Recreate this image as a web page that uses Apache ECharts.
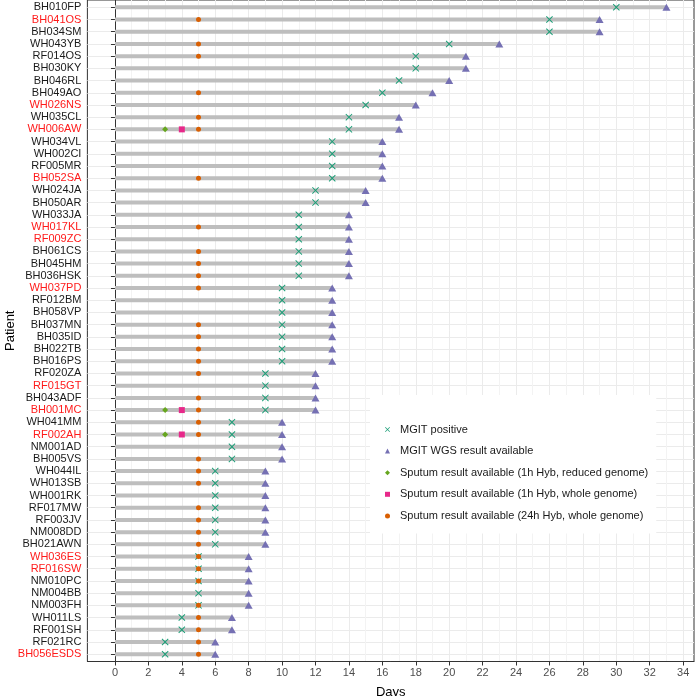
<!DOCTYPE html>
<html><head><meta charset="utf-8">
<script src="https://cdn.jsdelivr.net/npm/echarts@6/dist/echarts.min.js"></script>
<style>html,body{margin:0;padding:0;background:#fff}#c{width:696px;height:696px}</style>
</head><body><div id="c"></div><script>
const patients = ['BH010FP','BH041OS','BH034SM','WH043YB','RF014OS','BH030KY','BH046RL','BH049AO','WH026NS','WH035CL','WH006AW','WH034VL','WH002CI','RF005MR','BH052SA','WH024JA','BH050AR','WH033JA','WH017KL','RF009ZC','BH061CS','BH045HM','BH036HSK','WH037PD','RF012BM','BH058VP','BH037MN','BH035ID','BH022TB','BH016PS','RF020ZA','RF015GT','BH043ADF','BH001MC','WH041MM','RF002AH','NM001AD','BH005VS','WH044IL','WH013SB','WH001RK','RF017MW','RF003JV','NM008DD','BH021AWN','WH036ES','RF016SW','NM010PC','NM004BB','NM003FH','WH011LS','RF001SH','RF021RC','BH056ESDS'];
const redPatients = ['BH041OS','WH026NS','WH006AW','BH052SA','WH017KL','RF009ZC','WH037PD','RF015GT','BH001MC','RF002AH','WH036ES','RF016SW','BH056ESDS'];
const mgitPositive = [30,26,26,20,18,18,17,16,15,14,14,13,13,13,13,12,12,11,11,11,11,11,11,10,10,10,10,10,10,10,9,9,9,9,7,7,7,7,6,6,6,6,6,6,6,5,5,5,5,5,4,4,3,3];
const wgsResult = [33,29,29,23,21,21,20,19,18,17,17,16,16,16,16,15,15,14,14,14,14,14,14,13,13,13,13,13,13,13,12,12,12,12,10,10,10,10,9,9,9,9,9,9,9,8,8,8,8,8,7,7,6,6];
const sputum24hWhole = [null,5,null,5,5,null,null,5,null,5,5,null,null,null,5,null,null,null,5,null,5,5,5,5,null,null,5,5,5,5,5,null,5,5,5,5,null,5,5,5,null,5,5,5,5,5,5,5,null,5,5,5,5,5];
const sputum1hWhole = [null,null,null,null,null,null,null,null,null,null,4,null,null,null,null,null,null,null,null,null,null,null,null,null,null,null,null,null,null,null,null,null,null,4,null,4,null,null,null,null,null,null,null,null,null,null,null,null,null,null,null,null,null,null];
const sputum1hReduced = [null,null,null,null,null,null,null,null,null,null,3,null,null,null,null,null,null,null,null,null,null,null,null,null,null,null,null,null,null,null,null,null,null,3,null,3,null,null,null,null,null,null,null,null,null,null,null,null,null,null,null,null,null,null];
const xTicks = [0,2,4,6,8,10,12,14,16,18,20,22,24,26,28,30,32,34];
const xMinorTicks = [1,3,5,7,9,11,13,15,17,19,21,23,25,27,29,31,33];
const legendNames = ['MGIT positive','MGIT WGS result available','Sputum result available (1h Hyb, reduced genome)','Sputum result available (1h Hyb, whole genome)','Sputum result available (24h Hyb, whole genome)'];

const FONT = 'Liberation Sans, Arial, Helvetica, sans-serif';
const rowIdx = patients.map((_, i) => i + 1);
const toPts = arr => arr.map((v, i) => v == null ? null : [v, i + 1]).filter(p => p);
const CROSS = 'path://M0,1 L1,0 L5,4 L9,0 L10,1 L6,5 L10,9 L9,10 L5,6 L1,10 L0,9 L4,5 Z';

const chart = echarts.init(document.getElementById('c'), null, {renderer: 'canvas'});
chart.setOption({
  animation: false,
  backgroundColor: '#fff',
  textStyle: {fontFamily: FONT},
  grid: {left: 87.4, right: 2, top: 0, bottom: 34.5, containLabel: false, outerBoundsMode: 'none', show: true, borderColor: '#333333', borderWidth: 1, backgroundColor: 'transparent'},
  legend: {
    orient: 'vertical', left: 370, top: 395,
    backgroundColor: '#ffffff',
    padding: [29, 8, 12, 15],
    itemWidth: 5, itemHeight: 5, itemGap: 10.6,
    textStyle: {fontFamily: FONT, fontSize: 11, color: '#1a1a1a', padding: [0, 0, 0, 5]},
    data: legendNames
  },
  xAxis: [{
    type: 'value', min: -1.65, max: 34.65,
    name: 'Days', nameLocation: 'middle', nameGap: 24,
    nameTextStyle: {fontFamily: FONT, fontSize: 13, color: '#000'},
    axisLine: {show: true, lineStyle: {color: '#333333', width: 1}},
    axisTick: {show: true, length: 4, customValues: xTicks, lineStyle: {color: '#333333'}},
    axisLabel: {customValues: xTicks, fontFamily: FONT, fontSize: 11, color: '#4d4d4d', margin: 6},
    splitLine: {show: true, lineStyle: {color: '#EBEBEB', width: 1}}
  }, {
    type: 'value', min: -1.65, max: 34.65, position: 'bottom',
    axisLine: {show: false}, axisLabel: {show: false},
    axisTick: {show: false, customValues: xMinorTicks},
    splitLine: {show: true, lineStyle: {color: '#F3F3F3', width: 1}}
  }],
  yAxis: {
    type: 'value', min: 0.4, max: 54.6, inverse: true,
    name: 'Patient', nameLocation: 'middle', nameGap: 70, nameRotate: 90, nameMoveOverlap: false,
    nameTextStyle: {fontFamily: FONT, fontSize: 13, color: '#000'},
    axisLine: {show: true, lineStyle: {color: '#333333', width: 1}},
    axisTick: {show: true, length: 4, customValues: rowIdx, lineStyle: {color: '#333333'}},
    axisLabel: {
      customValues: rowIdx, fontFamily: FONT, fontSize: 11, color: '#1a1a1a', margin: 6,
      formatter: v => {
        const n = patients[Math.round(v) - 1];
        if (!n) return '';
        return redPatients.indexOf(n) >= 0 ? '{r|' + n + '}' : n;
      },
      rich: {r: {color: '#ff1a1a', fontFamily: FONT, fontSize: 11}}
    },
    splitLine: {show: true, lineStyle: {color: '#EBEBEB', width: 1}}
  },
  series: [
    {
      type: 'custom', name: 'bars', silent: true, z: 1,
      data: wgsResult.map((v, i) => [v, i + 1]),
      encode: {x: 0, y: 1},
      renderItem: (params, api) => {
        const s = api.coord([0, api.value(1)]);
        const e = api.coord([api.value(0), api.value(1)]);
        return {type: 'line', shape: {x1: s[0], y1: s[1], x2: e[0], y2: e[1]}, style: {stroke: '#BEBEBE', lineWidth: 4}};
      }
    },
    {type: 'scatter', name: legendNames[0], z: 3, data: toPts(mgitPositive), symbol: CROSS, symbolSize: 7, itemStyle: {color: '#1B9E77', opacity: 1}},
    {type: 'scatter', name: legendNames[1], z: 3, data: toPts(wgsResult), symbol: 'triangle', symbolSize: [8, 7], itemStyle: {color: '#7570B3', opacity: 1}},
    {type: 'scatter', name: legendNames[2], z: 3, data: toPts(sputum1hReduced), symbol: 'diamond', symbolSize: 6, itemStyle: {color: '#66A61E', opacity: 1}},
    {type: 'scatter', name: legendNames[3], z: 3, data: toPts(sputum1hWhole), symbol: 'rect', symbolSize: 6, itemStyle: {color: '#E7298A', opacity: 1}},
    {type: 'scatter', name: legendNames[4], z: 3, data: toPts(sputum24hWhole), symbol: 'circle', symbolSize: 5, itemStyle: {color: '#D95F02', opacity: 1}}
  ]
});
</script></body></html>
